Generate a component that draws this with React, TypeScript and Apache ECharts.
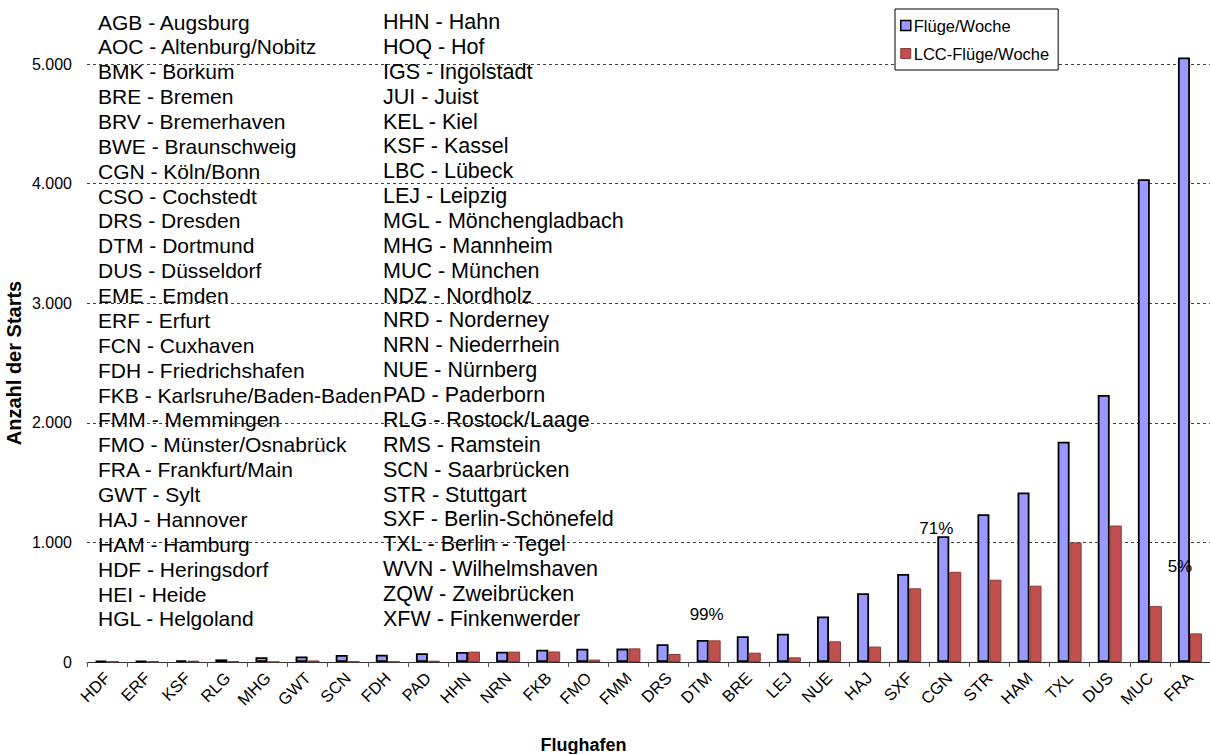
import React, { useEffect, useRef } from "react";
import * as echarts from "echarts";

const categories = ["HDF","ERF","KSF","RLG","MHG","GWT","SCN","FDH","PAD","HHN","NRN","FKB","FMO","FMM","DRS","DTM","BRE","LEJ","NUE","HAJ","SXF","CGN","STR","HAM","TXL","DUS","MUC","FRA"];
const flightsPerWeek = [8, 8, 14, 22, 40, 46, 58, 60, 73, 84, 86, 103, 111, 112, 148, 184, 215, 237, 381, 575, 736, 1051, 1236, 1417, 1841, 2232, 4036, 5054];
const lccFlightsPerWeek = [5, 5, 11, 6, 2, 13, 5, 4, 11, 87, 87, 88, 20, 114, 67, 181, 78, 39, 173, 129, 616, 754, 688, 638, 1000, 1141, 467, 239];
const yTicks = [0, 1000, 2000, 3000, 4000, 5000];

const noteCategories = ["DTM", "CGN", "FRA"];
const noteTexts = ["99%", "71%", "5%"];
const noteValues = [400, 1120, 800];

const codesColumn1 = [
  "AGB - Augsburg","AOC - Altenburg/Nobitz","BMK - Borkum","BRE - Bremen","BRV - Bremerhaven",
  "BWE - Braunschweig","CGN - Köln/Bonn","CSO - Cochstedt","DRS - Dresden","DTM - Dortmund",
  "DUS - Düsseldorf","EME - Emden","ERF - Erfurt","FCN - Cuxhaven","FDH - Friedrichshafen",
  "FKB - Karlsruhe/Baden-Baden","FMM - Memmingen","FMO - Münster/Osnabrück","FRA - Frankfurt/Main","GWT - Sylt",
  "HAJ - Hannover","HAM - Hamburg","HDF - Heringsdorf","HEI - Heide","HGL - Helgoland",
];
const codesColumn2 = [
  "HHN - Hahn","HOQ - Hof","IGS - Ingolstadt","JUI - Juist","KEL - Kiel",
  "KSF - Kassel","LBC - Lübeck","LEJ - Leipzig","MGL - Mönchengladbach","MHG - Mannheim",
  "MUC - München","NDZ - Nordholz","NRD - Norderney","NRN - Niederrhein","NUE - Nürnberg",
  "PAD - Paderborn","RLG - Rostock/Laage","RMS - Ramstein","SCN - Saarbrücken","STR - Stuttgart",
  "SXF - Berlin-Schönefeld","TXL - Berlin - Tegel","WVN - Wilhelmshaven","ZQW - Zweibrücken","XFW - Finkenwerder",
];

const FONT = "'Liberation Sans', Arial, Helvetica, sans-serif";
const BLUE = "#9999FF";
const RED = "#C0504D";

function fmt(v: number): string {
  return String(v).replace(/\B(?=(\d{3})+(?!\d))/g, ".");
}

export default function App() {
  const ref = useRef<HTMLDivElement>(null);
  useEffect(() => {
    if (!ref.current) return;
    const chart = echarts.init(ref.current, null, { renderer: "svg" });
    const noteOffsets: number[][] = [[4, 0], [-7, 0], [-4, 0]];
    chart.setOption({
      animation: false,
      backgroundColor: "#ffffff",
      textStyle: { fontFamily: FONT, color: "#000" },
      grid: { left: 87, right: 0, top: 64, bottom: 92, containLabel: false, outerBoundsMode: "none" },
      legend: {
        orient: "vertical",
        left: 895,
        top: 9,
        padding: [8, 9, 8, 5],
        itemGap: 11,
        itemWidth: 10,
        itemHeight: 10,
        backgroundColor: "#fff",
        borderColor: "#000",
        borderWidth: 1,
        textStyle: { fontFamily: FONT, fontSize: 16.5, color: "#000", padding: [0, 0, 0, -2] },
        data: [
          { name: "Flüge/Woche", icon: "rect", itemStyle: { color: BLUE, borderColor: "#000", borderWidth: 1.5 } },
          { name: "LCC-Flüge/Woche", icon: "rect", itemStyle: { color: RED, borderColor: "#8c3836", borderWidth: 1 } },
        ],
      },
      xAxis: {
        type: "category",
        data: categories,
        name: "Flughafen",
        nameLocation: "middle",
        nameGap: 74,
        nameMoveOverlap: false,
        nameTextStyle: { fontFamily: FONT, fontSize: 18, fontWeight: "bold", color: "#000", padding: [0, 130, 0, 0] },
        axisLine: { lineStyle: { color: "#333", width: 1 } },
        axisTick: { show: true, length: 5, lineStyle: { color: "#555" } },
        axisLabel: { interval: 0, rotate: 45, fontSize: 16.5, color: "#000", margin: 13, fontFamily: FONT },
      },
      yAxis: {
        type: "value",
        min: yTicks[0],
        max: yTicks[yTicks.length - 1],
        interval: 1000,
        name: "Anzahl der Starts",
        nameLocation: "middle",
        nameGap: 63,
        nameMoveOverlap: false,
        nameTextStyle: { fontFamily: FONT, fontSize: 20, fontWeight: "bold", color: "#000" },
        axisLine: { show: false },
        axisTick: { show: false },
        axisLabel: { fontSize: 16, color: "#000", margin: 15, fontFamily: FONT, formatter: (v: number) => fmt(v) },
        splitLine: { show: true, lineStyle: { color: "#404040", width: 1, type: [3, 3] } },
      },
      graphic: [
        {
          type: "text",
          left: 98,
          top: 9.6,
          z: 1,
          style: { text: codesColumn1.join("\n"), font: `21px ${FONT}`, fill: "#000", lineHeight: 24.87 },
        },
        {
          type: "text",
          left: 383,
          top: 9.6,
          z: 1,
          style: { text: codesColumn2.join("\n"), font: `21.5px ${FONT}`, fill: "#000", lineHeight: 24.87 },
        },
      ],
      series: [
        {
          name: "Flüge/Woche",
          type: "bar",
          data: flightsPerWeek,
          barWidth: 12,
          barGap: "0%",
          clip: false,
          itemStyle: { color: BLUE, borderColor: "#000", borderWidth: 1.8 },
          markPoint: {
            symbol: "circle",
            symbolSize: 1,
            itemStyle: { color: "rgba(0,0,0,0)" },
            label: { show: true, position: "inside", formatter: "{b}", fontSize: 17, color: "#000", fontFamily: FONT },
            data: noteCategories.map((c, i) => ({
              name: noteTexts[i],
              coord: [c, noteValues[i]],
              label: { offset: noteOffsets[i] },
            })),
          },
        },
        {
          name: "LCC-Flüge/Woche",
          type: "bar",
          data: lccFlightsPerWeek,
          barWidth: 12,
          barGap: "0%",
          clip: false,
          itemStyle: { color: RED, borderColor: "#8c3836", borderWidth: 1 },
        },
      ],
    });
    return () => chart.dispose();
  }, []);
  return (
    <div
      ref={ref}
      style={{ position: "absolute", left: 0, top: 0, width: 1210, height: 754 }}
    />
  );
}
